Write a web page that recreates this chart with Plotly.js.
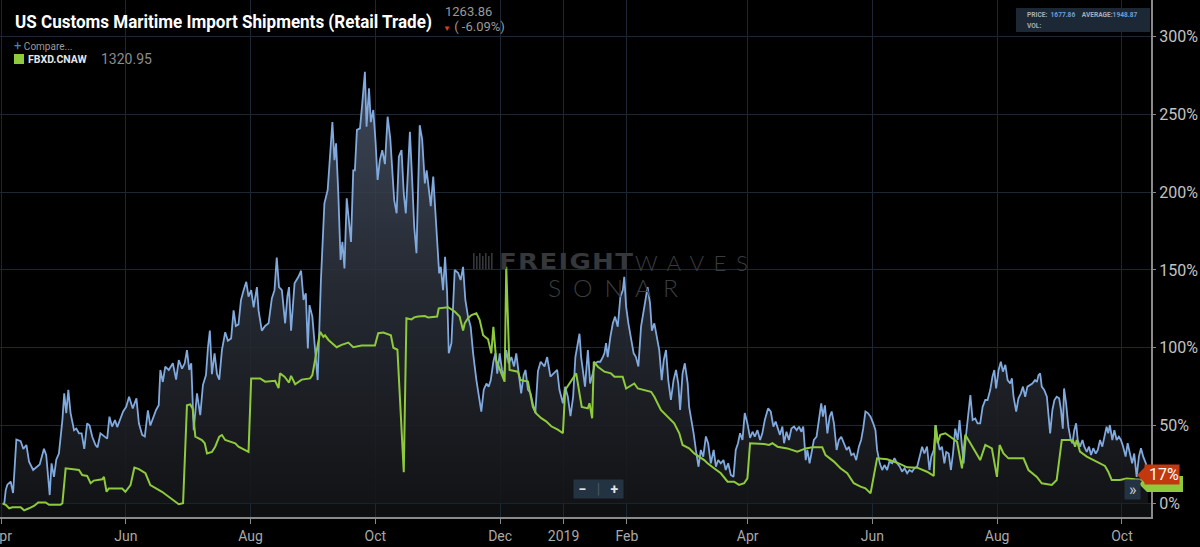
<!DOCTYPE html>
<html>
<head>
<meta charset="utf-8">
<script src="https://cdn.plot.ly/plotly-3.0.1.min.js"></script>
<style>
html,body{margin:0;padding:0;background:#000;overflow:hidden}
#chart{width:1200px;height:547px}
</style>
</head>
<body>
<div id="chart"></div>
<script>
// ---------- DATA (days since 2018-04-01, values in %) ----------
const startDate = Date.UTC(2018, 3, 1);

const blueDays = [
1.5,2.3,3.1,4.7,5.9,7.5,9.6,10.9,12.4,13.7,
15.7,17.8,18.9,21.0,22.1,23.8,24.7,25.9,27.0,28.3,
30.0,30.9,31.9,32.9,34.0,35.7,36.8,38.1,39.4,40.7,
42.1,43.3,44.6,46.2,47.2,48.6,50.3,51.9,53.0,54.3,
55.7,56.8,58.4,59.7,61.2,62.6,64.4,66.2,67.4,69.0,
70.3,71.8,73.0,74.2,75.8,77.1,77.9,79.1,80.3,82.0,
84.0,85.6,86.9,88.5,89.8,90.9,92.0,93.0,94.2,95.8,
97.4,98.7,100.2,101.2,102.1,103.1,104.4,105.6,106.7,108.0,
109.6,110.9,112.5,113.7,114.8,116.1,117.3,118.6,119.9,121.0,
122.3,123.5,125.1,125.9,127.5,129.1,130.8,132.4,133.7,134.8,
135.9,137.3,138.9,140.0,140.8,141.8,143.5,145.4,146.7,147.9,
149.0,150.0,150.8,152.2,153.5,154.8,156.4,158.1,159.7,160.8,
162.0,163.0,163.8,164.9,166.0,166.9,167.9,169.0,170.1,171.1,
172.2,173.0,174.0,175.5,176.6,177.9,178.7,179.9,180.8,182.0,
183.1,184.1,185.2,186.4,187.7,189.0,190.3,191.3,192.2,193.4,
194.5,195.8,196.9,197.9,199.9,201.0,202.0,203.1,204.7,205.9,
207.2,208.1,209.1,210.1,211.3,212.0,213.2,214.2,215.0,216.1,
217.1,218.1,218.9,220.2,221.8,223.5,224.7,225.9,227.0,228.3,
229.6,230.8,232.4,233.5,234.8,236.0,237.3,238.4,239.4,240.7,
241.7,242.6,243.8,244.9,245.9,247.0,248.2,249.5,250.8,251.9,
253.0,254.3,255.5,256.4,257.6,258.9,260.0,261.2,262.5,263.8,
265.7,267.0,268.6,270.3,271.9,273.0,274.7,275.8,277.1,278.4,
279.7,280.8,282.0,282.8,283.6,284.6,285.5,286.9,288.0,289.3,
290.4,291.8,293.0,294.2,295.0,295.8,296.6,297.9,299.1,300.2,
301.5,302.8,304.0,304.7,305.6,306.7,308.0,309.3,310.4,311.6,
312.9,314.2,315.3,316.1,317.3,318.2,319.4,320.7,321.8,323.0,
324.0,325.1,326.2,327.5,328.8,330.0,331.1,332.0,333.2,334.3,
335.7,336.4,337.6,338.6,339.7,341.0,342.1,343.3,344.6,345.7,
347.0,348.4,349.5,350.6,351.9,353.2,354.3,355.5,356.8,358.1,
359.2,360.3,361.3,362.5,363.6,364.9,366.2,367.4,368.5,369.8,
371.1,372.2,373.4,375.0,376.3,377.6,378.7,379.9,380.8,382.0,
382.8,384.0,385.2,386.4,387.7,389.0,390.1,391.3,392.2,393.4,
394.2,395.3,396.3,397.4,398.7,399.9,401.0,401.8,402.8,404.0,
405.1,406.1,407.2,408.5,409.6,410.8,412.0,413.4,414.5,415.7,
416.9,418.1,419.4,420.5,421.5,422.6,423.8,425.1,426.4,427.5,
428.3,429.6,430.8,431.9,433.2,434.3,435.7,436.8,438.1,439.4,
440.5,441.7,443.0,444.1,445.4,446.5,447.9,449.0,450.3,451.4,
452.7,453.9,454.8,456.0,457.0,457.9,458.9,460.0,461.2,462.1,
463.3,464.4,465.4,466.5,467.7,468.6,469.8,470.6,471.7,472.7,
473.9,475.0,476.3,477.4,478.7,479.9,481.2,482.3,483.6,484.7,
485.6,486.5,487.7,488.8,489.8,491.0,492.1,493.4,494.2,495.0,
496.3,497.4,498.6,499.6,500.7,501.8,503.1,504.2,505.5,506.4,
507.2,508.0,508.8,510.0,511.3,512.1,512.9,514.0,515.0,516.1,
517.3,518.2,519.1,519.7,520.7,521.8,523.0,523.8,524.7,525.6,
526.4,527.5,528.7,529.6,530.8,531.9,532.9,534.0,535.2,536.2,
537.3,538.4,539.4,540.5,541.3,542.1,543.3,544.3,545.4,546.5,
547.5,548.6,549.8,550.8,551.9,553.0,554.0,555.2,556.3,557.3,
558.4,559.7,560.8
];
const blueVals = [
-1,8.5,12,14,6.6,41,40,35,37.5,26.7,
21.4,23.5,25,35,31,5.3,25.7,17,28,32,
53.5,70.7,58,73,58,47,48,45,45,35,
51.4,50,42.8,37.5,36,45,43,41.6,55.7,49.3,
53.5,49,54.5,59,62,68.5,61,67.5,51.4,44,
43,59.8,50,54.5,60,63,85.7,78,87.8,85.7,
90,79.5,92,86.5,90,98.5,85.7,90,47,70.7,
56.7,76,82.4,100.6,111,83,96.4,83,79.5,98.5,
110,104.5,106,124,114,115,130.6,137,142.4,132.8,
137,126,139,124,111,114,115.7,131.7,137,158,
139,137,115.7,133,139,111,141.4,145.6,149.5,130.7,
135,99.6,127.4,120,98.5,79.2,143.5,192.8,201.4,220.6,
245,220.6,231.4,199,156.4,168,151,196,182,168,
214,214,240,241,257,277.4,242,266.7,245,252.8,
232.4,207.8,220.6,227,218,248.5,234.6,216,195,186.4,
222.8,227,199,186.4,238.8,207.8,177.8,160.7,243,234,
205.6,214,201.4,191,210,195,171.3,147.8,152,137,
158.5,135,96.4,103,150,148,143.5,152,130.7,120,
113.5,96.4,79.2,70.7,58.9,73,77,75,79,91,
96.4,83.4,96.4,85.7,81.4,98.5,90,94,88,96.4,
85.7,70.7,82.4,85.7,73,70.7,64,58,85,91,
88,94,81.4,83.5,85.7,73,64.3,75,68.5,56,
68.5,94,102.8,109,94,83.5,75,98.5,77,83.5,
90,91,91,94,96.4,103,94,107,115.7,120,
113.5,132.8,137,145.6,126.4,115.7,107,96.4,94,88,
113.5,124,130.7,139,128.5,111,115.7,105,98.5,79.2,
92,98.5,79.2,66.4,79.2,85.7,77,60,83.5,90,
77,62,53.5,45,34.3,23.5,34.3,30,43,38.6,
25.7,34.3,23.5,27.8,25.7,27.8,21.4,25.7,18.2,17,
34.3,38.6,45,40.8,58,51.4,42,46,42.8,47,
40.7,45,53.5,61,59,49.3,52.5,47,44,49.3,
38.6,46,40.7,48,49.3,47,49.3,46,49.3,27.8,
34.3,25.7,34.3,40.7,42.8,53.5,64.3,55.7,63,45,
55.7,59,51.4,34.3,40.7,42.8,38.6,34.3,36.4,31,
32,27.8,36.4,40.7,48,59,58,55.7,51.4,47,
34.3,25.7,21.4,24.6,21.4,26.8,25.7,29,25.7,23.5,
20.3,22.5,19.3,21.4,20.3,22.5,23.5,30,36.4,32,
36.4,21.4,30,34.3,50.3,40.7,34.3,36.4,25.7,33,
32,21.4,32,48,40.7,53.5,38.6,25.7,42.8,53.5,
69.6,53.5,54.5,51.4,51.4,62,66.4,66.4,72.8,81.4,
85.7,73.8,85.7,91,84.6,89,79.2,77,80.3,68.5,
59,67.5,70.7,75,68.5,75,76,77,79.2,78,
82.4,83.5,75,72.8,68.5,57.8,45,60,66.4,68.5,
67.5,60,48,73.8,64.3,49.3,40.7,38.6,47,51.4,
40.7,36.4,40.7,36.4,33,36.4,31,35.4,32,34.3,
40.7,36.4,42.8,49.3,45,50.3,40.7,47,40.7,42.8,
40.7,36.4,30,38.6,32,25.7,32,17,30,35.4,
30,25.7,18
];

const greenDays = [
0.7,2.3,4.0,5.6,9.6,11.3,13.7,16.1,18.2,21.8,
23.5,29.1,30.0,31.6,38.1,39.7,42.1,43.8,45.4,49.5,
50.3,51.6,52.7,59.2,60.8,63.3,65.2,67.4,70.6,73.0,
78.7,83.6,86.9,89.0,90.9,92.5,93.7,95.0,98.2,99.6,
100.7,103.1,104.7,106.7,108.0,109.6,114.5,116.1,121.0,122.3,
126.7,129.1,134.0,135.7,136.4,138.6,140.8,141.8,143.8,147.0,
151.1,152.2,153.9,156.0,157.6,158.4,160.1,164.1,166.5,169.8,
172.2,176.3,182.8,184.4,186.9,190.6,191.8,193.8,196.9,198.2,
200.7,202.0,203.9,207.2,208.8,213.2,214.0,218.6,221.8,224.2,
225.9,226.7,228.3,230.0,232.4,234.0,235.7,238.1,239.7,240.7,
242.1,243.8,246.2,247.0,248.6,252.7,254.0,257.6,260.0,261.6,
264.1,266.5,269.0,272.2,274.7,275.8,277.9,280.3,281.2,282.8,
283.9,286.9,287.7,289.0,289.8,291.8,295.0,298.2,299.9,303.9,
305.6,309.6,311.3,317.8,319.4,322.6,325.9,329.1,331.6,333.2,
336.4,338.9,343.8,345.4,348.6,351.9,355.2,358.4,360.8,363.3,
364.9,366.2,373.0,375.5,377.1,379.6,384.4,389.3,393.4,396.6,
401.5,403.1,407.2,410.4,413.7,416.9,420.2,422.6,425.1,428.3,
433.2,438.1,443.0,447.9,452.7,456.0,456.8,457.9,459.2,461.7,
464.1,467.4,469.8,471.4,473.9,477.1,478.7,481.2,484.4,486.9,
488.2,490.1,492.5,499.9,502.3,506.4,508.8,513.7,516.1,518.6,
522.6,524.2,525.1,525.9,527.5,530.8,534.0,537.3,539.7,541.3,
543.0,547.0,550.3,554.3,558.4
];
const greenVals = [
0,-1,-3.2,-2.6,-2.6,-4.5,-3.2,-1.7,0.5,0.5,
-1,-1,0,22.5,21.4,18.2,17.6,12.9,14.6,15.4,
17,7.4,9.5,9.5,7.4,11.7,23,22,19.3,11.7,
7.4,2.5,-0.6,0,63,63.6,60.7,42.8,40.7,38.6,
32,33,36.4,42.8,43.9,40.7,38.6,36.4,33,80.3,
80.3,78.2,78.8,74,83.5,81.4,77.6,81.9,76.5,79.5,
80.3,82.4,94,110.3,107,108,105,100.3,101.8,103.3,
100.3,101.4,101.4,109.3,109.7,108,100,98.7,20,118.9,
118.2,119.5,120,120.4,119.5,120,125.3,126,123.2,120,
111,115.7,119,121,122.2,118,108,105.4,96.4,113.5,
92,85.7,78.2,152,85.7,84.6,79.2,78.2,62,57.8,
54.7,52.7,49.5,47.3,45,72.8,77,81.4,83.5,70.7,
62,61,64.3,54.7,91,87.8,84.6,83.5,81.4,81.4,
73.8,77,73.8,71.7,68.5,60,55.7,51.4,45,37.5,
35.4,32.1,27.8,25.7,22.5,19.3,13.9,13.9,11.8,12.9,
16,38.6,38.1,37.5,38.6,36.4,35.3,33.2,35.3,36,
36,31,26.8,22.5,19.3,12.9,10.7,9.6,6.4,28.9,
28.3,26.1,23.1,22.9,20.3,17.6,50.3,38.6,44,45,
42.8,39.6,22.5,44,38.6,31,27.8,37.5,35.3,17,
37.5,32,28.9,28.9,21.4,17,12.9,11.8,15,40.7,
40.7,40,36.4,40.7,33.2,30,27.8,25.7,24,20.3,
15,15,16,15.4,15
];

const tickDates  = ['2018-04-01','2018-06-01','2018-08-01','2018-10-01','2018-12-01','2019-01-01','2019-02-01','2019-04-01','2019-06-01','2019-08-01','2019-10-01'];
const tickLabels = ['Apr','Jun','Aug','Oct','Dec','2019','Feb','Apr','Jun','Aug','Oct'];
const yTicks = [0,50,100,150,200,250,300];
const yTickLabels = ['0%','50%','100%','150%','200%','250%','300%'];

// ---------- helpers ----------
function dayToDate(d){
  return new Date(startDate + d*86400000).toISOString().slice(0,19).replace('T',' ');
}
const blueX = blueDays.map(dayToDate);
const greenX = greenDays.map(dayToDate);

const W = 1151, H = 517;           // plot area size in px
const px = x => x / W;
const py = y => 1 - y / H;
const Y_MIN = -8.8, Y_MAX = 323.5;

const FONT = 'Roboto, "Noto Sans", sans-serif';
const TITLE = 'US Customs Maritime Import Shipments (Retail Trade)';

const blueTrace = {
  x: blueX, y: blueVals, type: 'scatter', mode: 'lines',
  line: {color: '#80a9de', width: 1.8},
  fill: 'tozeroy',
  fillgradient: {
    type: 'vertical', start: 0, stop: 280,
    colorscale: [[0,'rgba(20,21,24,0.92)'],[0.5,'rgba(42,47,57,0.88)'],[1,'rgba(72,84,104,0.85)']]
  },
  hoverinfo: 'skip'
};
const greenTrace = {
  x: greenX, y: greenVals, type: 'scatter', mode: 'lines',
  line: {color: '#8fca3c', width: 2},
  hoverinfo: 'skip'
};

const ann = [];
// Title
ann.push({xref:'paper',yref:'paper',x:px(13),y:py(22),xanchor:'left',yanchor:'middle',showarrow:false,
  text:'<b>'+TITLE+'</b>',
  font:{family:FONT,size:19,color:'#ffffff'}});
ann.push({xref:'paper',yref:'paper',x:px(443),y:py(12),xanchor:'left',yanchor:'middle',showarrow:false,
  text:'1263.86',font:{family:FONT,size:13,color:'#9a9a9a'}});
ann.push({xref:'paper',yref:'paper',x:px(441),y:py(26),xanchor:'left',yanchor:'middle',showarrow:false,
  text:'<span style="color:#d8401c;font-size:8px">▼</span> ( -6.09%)',font:{family:FONT,size:13,color:'#9a9a9a'}});
// Legend
ann.push({xref:'paper',yref:'paper',x:px(12),y:py(45),xanchor:'left',yanchor:'middle',showarrow:false,
  text:'<span style="color:#3f86d8;font-size:13px">+</span> Compare...',font:{family:FONT,size:10,color:'#9a9a9a'}});
ann.push({xref:'paper',yref:'paper',x:px(26),y:py(59),xanchor:'left',yanchor:'middle',showarrow:false,
  text:'<b>FBXD.CNAW</b>',font:{family:FONT,size:10.5,color:'#e6e6e6'}});
ann.push({xref:'paper',yref:'paper',x:px(99),y:py(59),xanchor:'left',yanchor:'middle',showarrow:false,
  text:'1320.95',font:{family:FONT,size:14,color:'#8c8c8c'}});
// Info box text
ann.push({xref:'paper',yref:'paper',x:px(1025),y:py(14.5),xanchor:'left',yanchor:'middle',showarrow:false,
  text:'<b>PRICE:</b>  <span style="color:#6f9fd8"><b>1677.86</b></span>    <b>AVERAGE:</b><span style="color:#6f9fd8"><b>1948.87</b></span>',
  font:{family:FONT,size:6.6,color:'#a8adb5'}});
ann.push({xref:'paper',yref:'paper',x:px(1025),y:py(26),xanchor:'left',yanchor:'middle',showarrow:false,
  text:'<b>VOL:</b>',font:{family:FONT,size:6.6,color:'#a8adb5'}});
// Watermark
ann.push({xref:'paper',yref:'paper',x:px(497),y:py(262),xanchor:'left',yanchor:'middle',showarrow:false,
  text:'<b>FREIGHT</b>',font:{family:'"DejaVu Sans",Roboto,sans-serif',size:21,color:'#35373a'}});
ann.push({xref:'paper',yref:'paper',x:px(633),y:py(262),xanchor:'left',yanchor:'middle',showarrow:false,
  text:'WAVES',font:{family:'Lato, Roboto, sans-serif',size:21,weight:300,color:'#3a3c3f'}});
ann.push({xref:'paper',yref:'paper',x:px(546),y:py(288),xanchor:'left',yanchor:'middle',showarrow:false,
  text:'SONAR',font:{family:'Lato, Roboto, sans-serif',size:23,weight:300,color:'#3a3c3f'}});
// zoom buttons
ann.push({xref:'paper',yref:'paper',x:px(598.5),y:py(488.5),xanchor:'center',yanchor:'middle',showarrow:false,
  text:' <b>−</b>   <span style="color:#4a5966">|</span>   <b>+</b> ',font:{family:FONT,size:14,color:'#e0e4e8'},
  bgcolor:'#243341',borderpad:1});
ann.push({xref:'paper',yref:'paper',x:px(1132.5),y:py(489),xanchor:'center',yanchor:'middle',showarrow:false,
  text:' » ',font:{family:FONT,size:16,color:'#c8ced4'},bgcolor:'#243341',borderpad:0});
// last value tag of the blue series
ann.push({xref:'paper',yref:'y',x:px(1144),y:blueVals[blueVals.length-1],yshift:1,xanchor:'left',yanchor:'middle',showarrow:false,
  text:' 17%',font:{family:FONT,size:16,color:'#ffffff'},bgcolor:'#c2380f',borderpad:0});

const lastGreen = greenVals[greenVals.length-1];
const shapes = [
  // dark band below 0%
  {type:'rect',xref:'paper',yref:'y',x0:0,x1:1,y0:Y_MIN,y1:0,fillcolor:'#0e0f11',line:{width:0},layer:'below'},
  // info box
  {type:'rect',xref:'paper',yref:'paper',x0:px(1016),x1:px(1150),y0:py(32),y1:py(8),fillcolor:'#1c2835',line:{width:0},layer:'above'},
  // legend swatch
  {type:'rect',xref:'paper',yref:'paper',x0:px(14),x1:px(24),y0:py(64),y1:py(54),fillcolor:'#8fca3c',line:{width:0},layer:'above'},
  // last value tag of the green series (mostly hidden behind the red tag)
  {type:'path',xref:'paper',yref:'y',ysizemode:'pixel',yanchor:lastGreen,
   path:`M ${px(1139)} -4 L ${px(1147)} 4 L ${px(1183)} 4 L ${px(1183)} -12 L ${px(1147)} -12 Z`,
   fillcolor:'#8fca3c',line:{width:0},layer:'above'},
  // pointer of the 17% tag
  {type:'path',xref:'paper',yref:'paper',path:`M ${px(1137)} ${py(475)} L ${px(1145)} ${py(467)} L ${px(1145)} ${py(483)} Z`,fillcolor:'#c2380f',line:{width:0},layer:'above'}
];
// watermark logo: small vertical bars
[473,476,479,482,485,488,491].forEach((bx,i)=>{
  shapes.push({type:'rect',xref:'paper',yref:'paper',x0:px(bx),x1:px(bx+1.6),y0:py(270),y1:py(i%2?256:253),
    fillcolor:'#35373a',line:{width:0},layer:'below'});
});

const layout = {
  width: 1200, height: 547,
  margin: {l:0, r:49, t:0, b:30, pad:0},
  paper_bgcolor: '#000', plot_bgcolor: '#000',
  showlegend: false,
  font: {family: FONT, color: '#aaaaaa'},
  xaxis: {
    type: 'date',
    range: ['2018-03-31 12:00', '2019-10-15 05:00'],
    tickvals: tickDates, ticktext: tickLabels,
    tickfont: {size: 14, color: '#a9a9a9'},
    ticklabeloverflow: 'allow',
    showgrid: true, gridcolor: '#1b2733', gridwidth: 1,
    showline: true, linecolor: '#8a8a8a', linewidth: 2,
    ticks: 'outside', ticklen: 5, tickcolor: '#8a8a8a', tickwidth: 1,
    zeroline: false, fixedrange: true
  },
  yaxis: {
    side: 'right',
    range: [Y_MIN, Y_MAX],
    tickmode: 'array', tickvals: yTicks, ticktext: yTickLabels,
    tickfont: {size: 16, color: '#c2c2c2'},
    showgrid: true, gridcolor: '#1b2733', gridwidth: 1,
    showline: true, linecolor: '#8a8a8a', linewidth: 2,
    ticks: 'outside', ticklen: 3, tickcolor: '#8a8a8a',
    zeroline: false, fixedrange: true
  },
  annotations: ann,
  shapes: shapes
};

Plotly.newPlot('chart', [blueTrace, greenTrace], layout, {staticPlot: true, displayModeBar: false}).then(gd => {
  // fit condensed title / wide watermark lettering to the reference widths, keeping the left edge
  const fit = {};
  fit[TITLE]   = {w: 417, spacing: 0};
  fit['FREIGHT'] = {w: 134, spacing: 1};
  fit['WAVES']   = {w: 113, spacing: 9};
  fit['SONAR']   = {w: 130, spacing: 11};
  gd.querySelectorAll('.annotation-text').forEach(t => {
    const f = fit[t.textContent];
    if (!f) return;
    const b0 = t.getBBox();
    if (f.spacing) t.style.letterSpacing = f.spacing + 'px';
    const b1 = t.getBBox();
    const w1 = b1.width - (f.spacing || 0);
    const sx = f.w / w1;
    t.setAttribute('transform', `translate(${b0.x},0) scale(${sx},1) translate(${-b1.x},0)`);
  });
});
</script>
</body>
</html>
